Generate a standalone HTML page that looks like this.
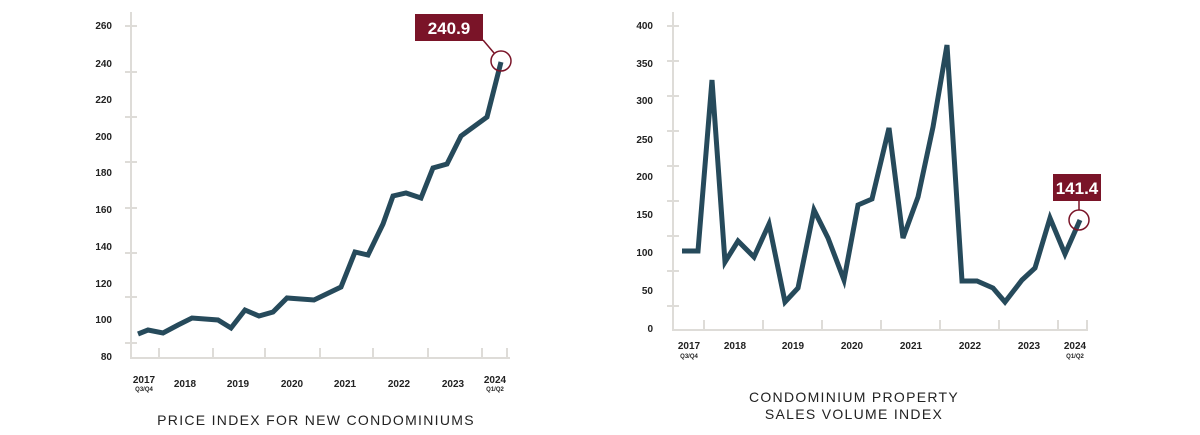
<!DOCTYPE html>
<html><head><meta charset="utf-8"><style>
html,body{margin:0;padding:0;background:#fff;}
svg{display:block;}
text{font-family:"Liberation Sans",sans-serif;}
.yl{font-size:10px;font-weight:bold;fill:#222;text-anchor:end;}
.xl{font-size:10px;font-weight:bold;fill:#222;text-anchor:middle;}
.xs{font-size:6px;font-weight:bold;fill:#222;text-anchor:middle;}
.tt{font-size:14px;fill:#222;text-anchor:middle;letter-spacing:1.3px;}
</style></head><body>
<svg width="1200" height="435" viewBox="0 0 1200 435">
<g stroke="#dedcd8" stroke-width="2" fill="none">
<path d="M131,12V358H510"/>
<path d="M125,26h12M125,72h12M125,117h12M125,162h12M125,208h12M125,253h12M125,297h12M125,343h12"/>
<path d="M159,358v-10M213,358v-10M265,358v-10M320,358v-10M373,358v-10M428,358v-10M482,358v-10M507,358v-10"/>
<path d="M673,12V330H1088"/>
<path d="M667,26h12M667,61h12M667,96h12M667,131h12M667,166h12M667,201h12M667,236h12M667,271h12M667,306h12"/>
<path d="M704,330v-10M763,330v-10M822,330v-10M881,330v-10M940,330v-10M999,330v-10M1058,330v-10M1087,330v-10"/>
</g>
<g class="yl">
<text x="112" y="29">260</text><text x="112" y="67">240</text><text x="112" y="103">220</text><text x="112" y="140">200</text><text x="112" y="176">180</text><text x="112" y="213">160</text><text x="112" y="250">140</text><text x="112" y="287">120</text><text x="112" y="323">100</text><text x="112" y="360">80</text>
<text x="653" y="29">400</text><text x="653" y="67">350</text><text x="653" y="104">300</text><text x="653" y="143">250</text><text x="653" y="180">200</text><text x="653" y="218">150</text><text x="653" y="256">100</text><text x="653" y="294">50</text><text x="653" y="332">0</text>
</g>
<g class="xl">
<text x="144" y="383">2017</text><text x="185" y="387">2018</text><text x="238" y="387">2019</text><text x="292" y="387">2020</text><text x="345" y="387">2021</text><text x="399" y="387">2022</text><text x="453" y="387">2023</text><text x="495" y="383">2024</text>
<text x="689" y="349">2017</text><text x="735" y="349">2018</text><text x="793" y="349">2019</text><text x="852" y="349">2020</text><text x="911" y="349">2021</text><text x="970" y="349">2022</text><text x="1029" y="349">2023</text><text x="1075" y="349">2024</text>
</g>
<g class="xs">
<text x="144" y="391">Q3/Q4</text><text x="495" y="391">Q1/Q2</text>
<text x="689" y="358">Q3/Q4</text><text x="1075" y="358">Q1/Q2</text>
</g>
<g fill="none" stroke="#264a5b" stroke-width="5" stroke-linejoin="miter">
<polyline points="138,334 148,330 163,333 178,325 192,318 218,320 231,328 245,310 259,316 273,312 287,298 314,300 341,287 355,252 368,255 383,224 393,196 406,193 421,198 433,168 447,164 461,136 487,117 501,62"/>
<polyline points="682,251 698,251 712,80 725,262 738,241 754,257 769,224 785,302 798,288 814,210 828,238 844,280 858,205 872,199 889,128 903,238 918,197 933,127 947,45 962,281 977,281 993,288 1005,302 1022,280 1035,268 1050,218 1065,254 1080,220"/>
</g>
<g stroke="#7a1428" stroke-width="1.5" fill="none">
<circle cx="501" cy="61" r="10"/><path d="M483,40L494,53"/>
<circle cx="1079" cy="220" r="10"/><path d="M1079,200V210"/>
</g>
<rect x="415" y="14" width="68" height="27" fill="#7a1428"/>
<text x="449" y="34" fill="#fff" font-size="17" font-weight="bold" text-anchor="middle">240.9</text>
<rect x="1053" y="174" width="48" height="27" fill="#7a1428"/>
<text x="1077" y="194" fill="#fff" font-size="17" font-weight="bold" text-anchor="middle">141.4</text>
<text class="tt" x="316" y="425">PRICE INDEX FOR NEW CONDOMINIUMS</text>
<text class="tt" x="854" y="402">CONDOMINIUM PROPERTY</text>
<text class="tt" x="854" y="419">SALES VOLUME INDEX</text>
</svg>
</body></html>
